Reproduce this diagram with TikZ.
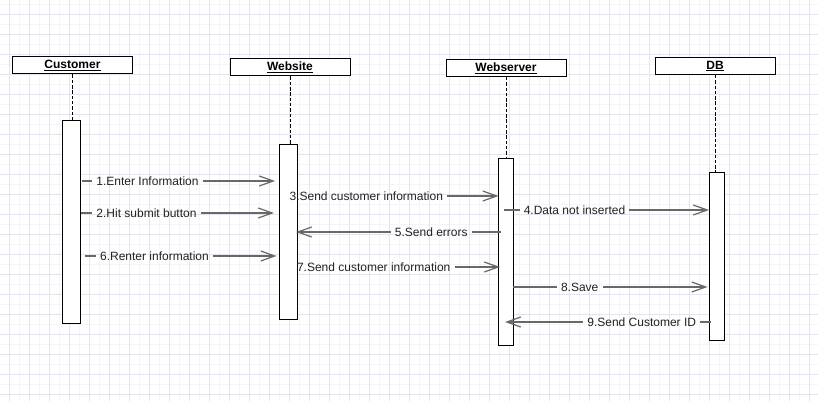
\documentclass[tikz,border=0pt]{standalone}
\usepackage{fontspec}
\setmainfont{Liberation Sans}
\usetikzlibrary{arrows.meta}
\definecolor{gridmaj}{HTML}{E4E4F0}
\definecolor{gridmin}{HTML}{F4F4FA}
\definecolor{msggray}{HTML}{686868}
\definecolor{txt}{HTML}{222222}
\begin{document}
\begin{tikzpicture}[x=1pt,y=-1pt,
 head/.style={draw=black, line width=1pt, fill=white, minimum width=120pt, minimum height=17pt, inner sep=0pt, font=\fontsize{12}{14}\selectfont\bfseries, text=black},
 act/.style={draw=black, line width=1pt, fill=white, inner sep=0pt},
 life/.style={black, line width=0.9pt, dash pattern=on 3.5pt off 1.8pt},
 lbl/.style={inner xsep=4pt, inner ysep=0pt, font=\fontsize{12}{14}\selectfont, text=txt},
 msg/.style={msggray, line width=2pt},
 msgarrow/.style={msg, -{Straight Barb[length=14pt,width=10pt,line width=1.2pt]}}
]
\useasboundingbox (0,0) rectangle (818,401);
\fill[white] (0,0) rectangle (818,401);
% grid
\foreach \x in {19,39,...,799} \draw[gridmin, line width=0.6pt] (\x,0) -- (\x,401);
\foreach \y in {4,24,...,384} \draw[gridmin, line width=0.6pt] (0,\y) -- (818,\y);
\foreach \x in {9,29,...,809} \draw[gridmaj, line width=0.8pt] (\x,0) -- (\x,401);
\foreach \y in {14,34,...,394} \draw[gridmaj, line width=0.8pt] (0,\y) -- (818,\y);

% heads
\node[head] (cust) at (72.5,65.5) {\underline{Customer}};
\node[head] (web) at (290,67.5) {\underline{Website}};
\node[head] (srv) at (506,68) {\underline{Webserver}};
\node[head] (db) at (715,66) {\underline{DB}};

% activation bars
\node[act, minimum width=18pt, minimum height=203pt] (custact) at (71,221.5) {};
\node[act, minimum width=18pt, minimum height=175pt] (webact) at (288,231.5) {};
\node[act, minimum width=15pt, minimum height=187pt] (srvact) at (505.5,251.5) {};
\node[act, minimum width=15pt, minimum height=168pt] (dbact) at (716.5,256) {};

% lifelines
\draw[life] (cust.south) -- (cust.south |- custact.north);
\draw[life] (web.south) -- (web.south |- webact.north);
\draw[life] (srv.south) -- (srv.south |- srvact.north);
\draw[life] (db.south) -- (db.south |- dbact.north);

% message 1
\coordinate (m1s) at (82,181);
\coordinate (m1e) at (275,181);
\node[lbl] (m1) at (147.5,181) {1.Enter Information};
\draw[msg] (m1s) -- (m1.west);
\draw[msgarrow] (m1.east) -- (m1e);

% message 2
\coordinate (m2s) at (81,213);
\coordinate (m2e) at (274,213);
\node[lbl] (m2) at (146.5,213) {2.Hit submit button};
\draw[msg] (m2s) -- (m2.west);
\draw[msgarrow] (m2.east) -- (m2e);

% message 6
\coordinate (m6s) at (85,256);
\coordinate (m6e) at (276.5,256);
\node[lbl] (m6) at (154.5,256) {6.Renter information};
\draw[msg] (m6s) -- (m6.west);
\draw[msgarrow] (m6.east) -- (m6e);

% message 3
\coordinate (m3e) at (498.5,196);
\node[lbl] (m3) at (366.3,196) {3.Send customer information};
\draw[msgarrow] (m3.east) -- (m3e);

% message 5
\coordinate (m5s) at (500.5,232);
\coordinate (m5e) at (296,232);
\node[lbl] (m5) at (431.3,232) {5.Send errors};
\draw[msg] (m5s) -- (m5.east);
\draw[msgarrow] (m5.west) -- (m5e);

% message 7
\coordinate (m7e) at (500,267);
\node[lbl] (m7) at (373.7,267) {7.Send customer information};
\draw[msgarrow] (m7.east) -- (m7e);

% message 4
\coordinate (m4s) at (504,210);
\coordinate (m4e) at (709,210);
\node[lbl] (m4) at (574.5,210) {4.Data not inserted};
\draw[msg] (m4s) -- (m4.west);
\draw[msgarrow] (m4.east) -- (m4e);

% message 8
\coordinate (m8s) at (513.3,287);
\coordinate (m8e) at (707.5,287);
\node[lbl] (m8) at (579.7,287) {8.Save};
\draw[msg] (m8s) -- (m8.west);
\draw[msgarrow] (m8.east) -- (m8e);

% message 9
\coordinate (m9s) at (710.5,322);
\coordinate (m9e) at (505,322);
\node[lbl] (m9) at (641.7,322) {9.Send Customer ID};
\draw[msg] (m9s) -- (m9.east);
\draw[msgarrow] (m9.west) -- (m9e);
\end{tikzpicture}
\end{document}
